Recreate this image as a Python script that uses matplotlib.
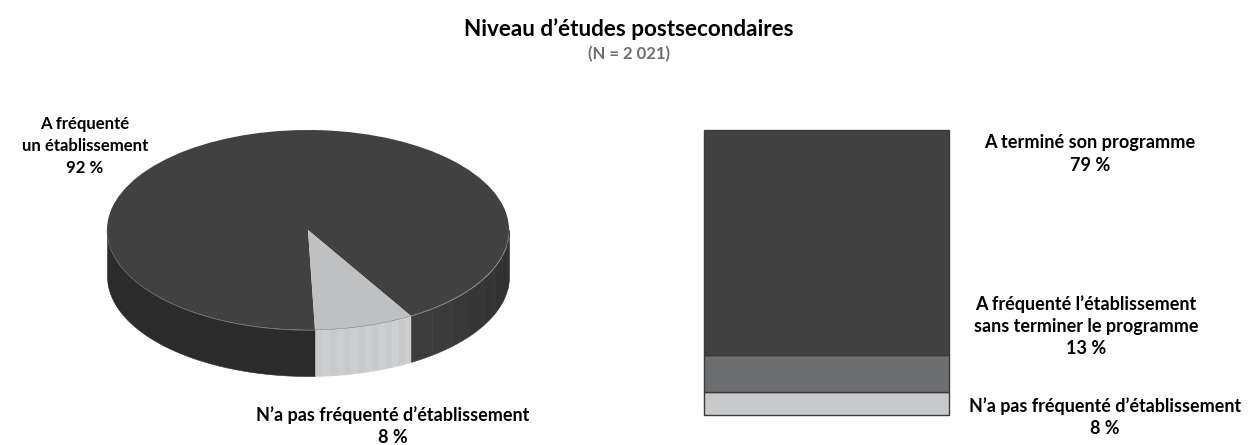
import matplotlib
matplotlib.use('Agg')
import matplotlib.pyplot as plt
import matplotlib.colors as mcolors
import numpy as np

plt.rcParams['font.family'] = ['Lato', 'DejaVu Sans']

W, H = 1253, 445

# Data
pie_labels = ['A fréquenté\nun établissement\n92\u00a0%', 'N’a pas fréquenté d’établissement\n8\u00a0%']
pie_values = [92, 8]
bar_labels = ['N’a pas fréquenté d’établissement\n8\u00a0%',
              'A fréquenté l’établissement\nsans terminer le programme\n13\u00a0%',
              'A terminé son programme\n79\u00a0%']
bar_values = [8, 13, 79]

DARK = '#414142'
LIGHT = '#bfc0c2'
SIDE_DARK = '#2b2b2c'
SIDE_LIGHT = '#c8c9cb'
MID = '#6d6e70'
TEXT = '#000000'


def axes_px(x0, y0, x1, y1):
    # rectangle in pixels, y going down
    return fig.add_axes([x0 / W, 1 - y1 / H, (x1 - x0) / W, (y1 - y0) / H])


def label(x, y, s, **kw):
    fig.text(x / W, 1 - y / H, s, ha='center', va='center', fontweight='bold', **kw)


def wall(a0, a1, col):
    t = np.radians(np.linspace(a0, a1, 40))
    ax.fill_between(np.cos(t), np.sin(t), np.sin(t) - depth, color=col, linewidth=0.4, zorder=1, clip_on=False)


fig = plt.figure(figsize=(W / 100, H / 100), dpi=100, facecolor='white')

# Camembert en perspective
depth = 0.46
start = -59.2
ax = axes_px(107, 130, 509, 376)
wedges, _ = ax.pie(pie_values, colors=[DARK, LIGHT], startangle=start, radius=1, center=(0, 0),
                   wedgeprops=dict(linewidth=0), normalize=True)
ax.set_aspect('auto')
ax.set_xlim(-1, 1)
ax.set_ylim(-1 - depth, 1)
for w in wedges:
    w.set_zorder(3)
    w.set_clip_on(False)

# paroi avant : on coupe aux limites des parts
split = start + 360 - pie_values[1] * 3.6   # bord gauche de la petite part
right = start + 360                         # bord droit de la petite part
wall(180, split, SIDE_DARK)

edges = np.linspace(split, right, 15)
for i in range(len(edges) - 1):
    wall(edges[i], edges[i + 1], SIDE_LIGHT if i % 2 == 0 else '#cdced0')

edges = np.linspace(right, 360, 9)
for i in range(len(edges) - 1):
    v = 0x3c - i * 2
    wall(edges[i], edges[i + 1], mcolors.to_hex((v / 255, v / 255, v / 255)))

t = np.radians(np.linspace(180, 360, 200))
ax.plot(np.cos(t), np.sin(t), color='#77777a', lw=0.4, zorder=4, clip_on=False)

# Barre empilée
ax2 = axes_px(704, 130, 949, 415)
bottom = 0
for val, col in zip(bar_values, [SIDE_LIGHT, MID, DARK]):
    ax2.bar(0, val, width=1, bottom=bottom, color=col, edgecolor='#3a3a3b', linewidth=1.0, clip_on=False)
    bottom += val
ax2.set_xlim(-0.5, 0.5)
ax2.set_ylim(0, sum(bar_values))
ax2.axis('off')

# Textes
label(629, 29, 'Niveau d’études postsecondaires', fontsize=16.2, color=TEXT)
label(629, 54, '(N = 2\u00a0021)', fontsize=12, color=MID)
label(85, 146, pie_labels[0], fontsize=12.1, color=TEXT, linespacing=1.48)
label(393, 426, pie_labels[1], fontsize=13, color=TEXT, linespacing=1.38)
label(1090, 154, bar_labels[2], fontsize=13.1, color=TEXT, linespacing=1.38)
label(1086, 326, bar_labels[1], fontsize=13, color=TEXT, linespacing=1.38)
label(1105, 417, bar_labels[0], fontsize=12.9, color=TEXT, linespacing=1.38)

fig.savefig('out.png', dpi=100, facecolor='white')
